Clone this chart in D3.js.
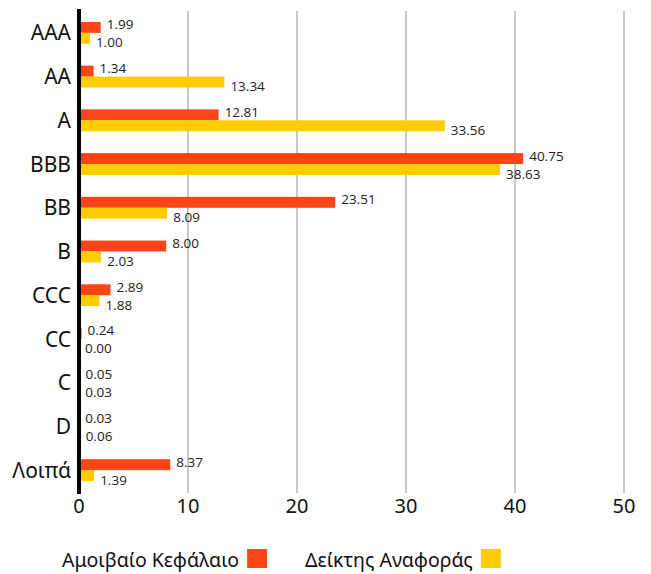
<!DOCTYPE html>
<html>
<head>
<meta charset="utf-8">
<script src="https://cdn.jsdelivr.net/npm/d3@7"></script>
<style>
  body { margin: 0; background: #fff; }
  svg { display: block; }
</style>
</head>
<body>
<svg id="chart"></svg>
<script>
const categories = ["AAA", "AA", "A", "BBB", "BB", "B", "CCC", "CC", "C", "D", "Λοιπά"];
const fundValues = [1.99, 1.34, 12.81, 40.75, 23.51, 8.00, 2.89, 0.24, 0.05, 0.03, 8.37];
const indexValues = [1.00, 13.34, 33.56, 38.63, 8.09, 2.03, 1.88, 0.00, 0.03, 0.06, 1.39];
const seriesNames = ["Αμοιβαίο Κεφάλαιο", "Δείκτης Αναφοράς"];
const xTicks = [0, 10, 20, 30, 40, 50];

const width = 651, height = 574;
const colors = ["#fc4516", "#ffcc00"];

const svg = d3.select("#chart").attr("width", width).attr("height", height);

const x = d3.scaleLinear().domain([0, 50]).range([79, 624]);
const y = d3.scaleBand().domain(categories).range([11, 492]).paddingInner(0.5).paddingOuter(0.25);
const barH = y.bandwidth() / 2;

// grid lines
svg.append("g")
  .selectAll("line")
  .data(xTicks.slice(1))
  .enter()
  .append("line")
  .attr("x1", d => x(d))
  .attr("x2", d => x(d))
  .attr("y1", 11)
  .attr("y2", 493)
  .attr("stroke", "#c8c8c8")
  .attr("stroke-width", 2);

// tick labels
svg.append("g")
  .selectAll("text")
  .data(xTicks)
  .enter()
  .append("text")
  .attr("x", d => x(d))
  .attr("y", 513)
  .attr("text-anchor", "middle")
  .style("font-family", "'Noto Sans', sans-serif")
  .style("font-size", "20px")
  .attr("fill", "#111")
  .text(d => d);

const rows = categories.map((c, i) => ({ cat: c, fund: fundValues[i], index: indexValues[i] }));

const g = svg.append("g")
  .selectAll("g")
  .data(rows)
  .enter()
  .append("g")
  .attr("transform", d => `translate(0,${y(d.cat)})`);

g.append("rect")
  .attr("x", x(0))
  .attr("y", 0)
  .attr("width", d => x(d.fund) - x(0))
  .attr("height", barH)
  .attr("fill", colors[0]);

g.append("rect")
  .attr("x", x(0))
  .attr("y", barH)
  .attr("width", d => x(d.index) - x(0))
  .attr("height", barH)
  .attr("fill", colors[1]);

g.append("text")
  .attr("x", d => x(d.fund) + 6)
  .attr("y", barH / 2 + 2)
  .style("font-family", "'Open Sans', sans-serif")
  .style("font-size", "13.5px")
  .attr("fill", "#222")
  .text(d => d.fund.toFixed(2));

g.append("text")
  .attr("x", d => x(d.index) + 6)
  .attr("y", barH * 1.5 + 9)
  .style("font-family", "'Open Sans', sans-serif")
  .style("font-size", "13.5px")
  .attr("fill", "#222")
  .text(d => d.index.toFixed(2));

// category labels
g.append("text")
  .attr("x", 71)
  .attr("y", barH)
  .attr("dy", "0.36em")
  .attr("text-anchor", "end")
  .style("font-family", "'Noto Sans', sans-serif")
  .style("font-size", "21px")
  .attr("fill", "#111")
  .text(d => d.cat);

// zero axis line
svg.append("line")
  .attr("x1", x(0))
  .attr("x2", x(0))
  .attr("y1", 9)
  .attr("y2", 494)
  .attr("stroke", "#000")
  .attr("stroke-width", 4);

// legend
const legend = svg.append("g")
  .selectAll("g")
  .data(seriesNames)
  .enter()
  .append("g")
  .attr("transform", (d, i) => `translate(${[62, 305][i]},0)`);

legend.append("text")
  .attr("x", 0)
  .attr("y", 567)
  .style("font-family", "'Noto Sans', sans-serif")
  .style("font-size", "19.5px")
  .attr("fill", "#111")
  .text(d => d);

legend.append("rect")
  .attr("x", function () {
    return this.parentNode.querySelector("text").getComputedTextLength() + 8;
  })
  .attr("y", 549)
  .attr("width", 20)
  .attr("height", 19)
  .attr("fill", (d, i) => colors[i]);
</script>
</body>
</html>
